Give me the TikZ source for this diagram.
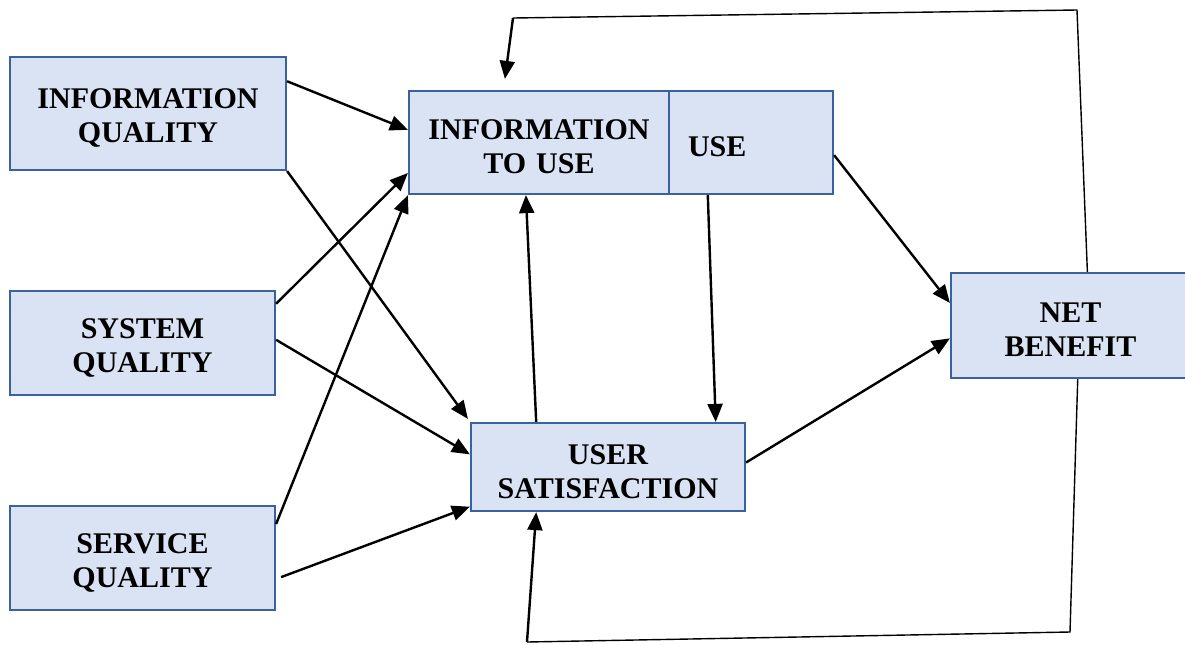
\documentclass[tikz,border=0pt]{standalone}
\usepackage{fontspec}
\setmainfont{Liberation Serif}
\usetikzlibrary{arrows.meta,calc}
\definecolor{boxfill}{HTML}{DAE3F3}
\definecolor{boxline}{HTML}{3B62A0}
\begin{document}
\begin{tikzpicture}[x=0.5pt,y=-0.5pt,
  box/.style={draw=boxline,fill=boxfill,line width=1.1pt,inner sep=0pt,align=center,
    font=\fontsize{15}{17}\selectfont\bfseries,execute at begin node={\rule{0pt}{14.5pt}}},
  link/.style={line width=1.2pt,-{Triangle[length=9pt,width=7.5pt]}},
  loopline/.style={line width=0.7pt},
  looparrow/.style={line width=1.2pt,-{Triangle[length=9pt,width=7.5pt]}}]
\useasboundingbox (0,0) rectangle (1185,644);

% source constructs
\node[box,text width=138pt,minimum height=56.5pt] (iq) at (148,113.5) {INFORMATION\\QUALITY};
\node[box,text width=132.5pt,minimum height=52pt] (sq) at (142.5,343) {SYSTEM\\QUALITY};
\node[box,text width=132.5pt,minimum height=52pt] (svq) at (142.5,558) {SERVICE\\QUALITY};

% use / intention to use
\node[box,text width=130pt,minimum height=51.5pt] (itu) at (539,142.5) {INFORMATION\\TO USE};
\node[box,minimum height=51.5pt,text width=63pt,inner xsep=9.5pt,align=left] (use) at (751,142.5) {USE};

% satisfaction and benefit
\node[box,text width=137pt,minimum height=44pt] (us) at (608,467) {USER\\SATISFACTION};
\node[box,text width=119.5pt,minimum height=52.5pt] (nb) at (1070.5,325.5) {NET\\BENEFIT};

% direct relations
\draw[link] ($(iq.north east)!0.22!(iq.south east)$) -- ($(itu.north west)!0.38!(itu.south west)$);
\draw[link] (iq.south east) -- ([xshift=-1pt,yshift=1.5pt]us.north west);
\draw[link] ($(sq.north east)!0.13!(sq.south east)$) -- ($(itu.north west)!0.79!(itu.south west)$);
\draw[link] ($(sq.north east)!0.47!(sq.south east)$) -- ($(us.north west)!0.36!(us.south west)$);
\draw[link] ($(svq.north east)!0.18!(svq.south east)$) -- (itu.south west);
\draw[link] ([xshift=2.5pt]$(svq.north east)!0.68!(svq.south east)$) -- ($(us.north west)!0.94!(us.south west)$);
\draw[link] ($(us.north west)!0.24!(us.north east)$) -- ($(itu.south west)!0.45!(itu.south east)$);
\draw[link] ($(use.south west)!0.24!(use.south east)$) -- ($(us.north west)!0.89!(us.north east)$);
\draw[link] ($(use.north east)!0.62!(use.south east)$) -- ($(nb.north west)!0.29!(nb.south west)$);
\draw[link] ($(us.north east)!0.45!(us.south east)$) -- ($(nb.north west)!0.62!(nb.south west)$);

% feedback loops
\coordinate (t1) at (1077,10);
\coordinate (t2) at (513,18);
\coordinate (b1) at (1070,632);
\coordinate (b2) at (527,642);
\draw[loopline] ($(nb.north west)!0.57!(nb.north east)$) -- (t1) -- (t2);
\draw[looparrow] (t2) -- ([yshift=5.5pt]$(itu.north west)!0.37!(itu.north east)$);
\draw[loopline] ($(nb.south west)!0.53!(nb.south east)$) -- (b1) -- (b2);
\draw[looparrow] (b2) -- ($(us.south west)!0.24!(us.south east)$);
\end{tikzpicture}
\end{document}
